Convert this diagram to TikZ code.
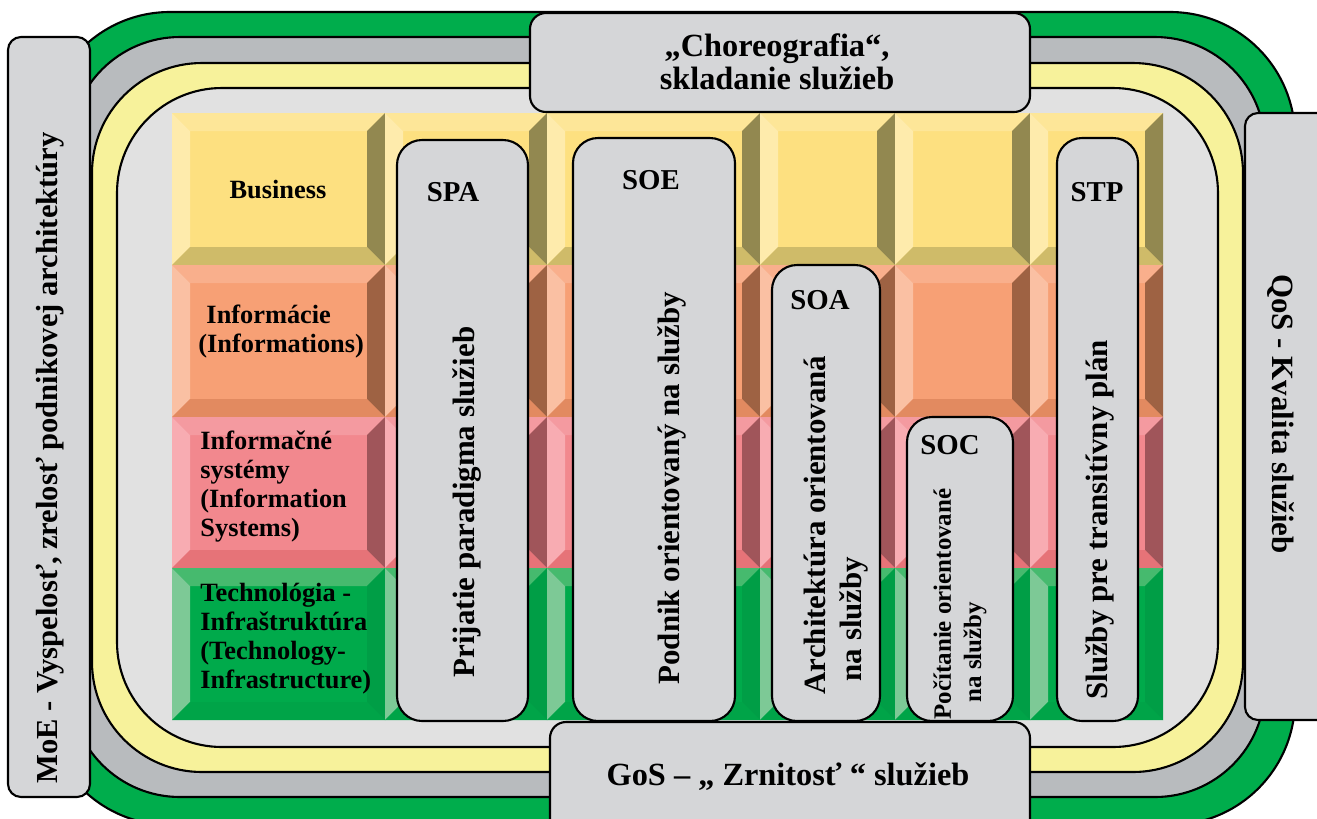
\documentclass[tikz,border=0pt]{standalone}
\usepackage{fontspec}
\setmainfont{Liberation Serif}

% ring and box colours
\definecolor{ringgreen}{RGB}{0,173,76}
\definecolor{ringgray}{RGB}{184,187,190}
\definecolor{ringyellow}{RGB}{247,242,155}
\definecolor{innergray}{RGB}{225,225,225}
\definecolor{boxgray}{RGB}{213,214,216}
% bevel tiles: C centre, T top, L left, R right, B bottom
\definecolor{bizC}{RGB}{253,224,128}
\definecolor{bizT}{RGB}{253,230,152}
\definecolor{bizL}{RGB}{254,235,172}
\definecolor{bizR}{RGB}{146,136,80}
\definecolor{bizB}{RGB}{207,187,105}
\definecolor{infC}{RGB}{247,160,117}
\definecolor{infT}{RGB}{249,175,140}
\definecolor{infL}{RGB}{250,192,163}
\definecolor{infR}{RGB}{158,98,67}
\definecolor{infB}{RGB}{226,138,96}
\definecolor{isyC}{RGB}{242,136,142}
\definecolor{isyT}{RGB}{244,154,160}
\definecolor{isyL}{RGB}{248,172,178}
\definecolor{isyR}{RGB}{160,85,90}
\definecolor{isyB}{RGB}{230,115,120}
\definecolor{tecC}{RGB}{0,170,75}
\definecolor{tecT}{RGB}{70,186,110}
\definecolor{tecL}{RGB}{125,201,150}
\definecolor{tecR}{RGB}{0,158,70}
\definecolor{tecB}{RGB}{0,164,72}

\newcommand{\bevtile}[5]{%
  \fill[fill=#5C] (#1,#2) rectangle (#3,#4);
  \fill[fill=#5T] (#1,#2) -- (#3,#2) -- (#3-18,#2+18) -- (#1+18,#2+18) -- cycle;
  \fill[fill=#5L] (#1,#2) -- (#1+18,#2+18) -- (#1+18,#4-18) -- (#1,#4) -- cycle;
  \fill[fill=#5R] (#3,#2) -- (#3,#4) -- (#3-18,#4-18) -- (#3-18,#2+18) -- cycle;
  \fill[fill=#5B] (#1,#4) -- (#3,#4) -- (#3-18,#4-18) -- (#1+18,#4-18) -- cycle;
}

\begin{document}
\begin{tikzpicture}[
    x=0.1mm, y=-0.1mm,
    ring/.style={draw=black, line width=0.6pt},
    svcbox/.style={draw=black, fill=boxgray, line width=0.6pt, rounded corners=2.5mm},
    sidebox/.style={draw=black, fill=boxgray, line width=0.6pt, rounded corners=1.3mm},
    lbl/.style={font=\fontsize{8.2}{9.5}\selectfont\bfseries},
    rowlbl/.style={font=\fontsize{7.5}{8.25}\selectfont\bfseries, align=left},
    vtxt/.style={font=\fontsize{8.8}{10.4}\selectfont\bfseries, rotate=90, align=left},
    big/.style={font=\fontsize{9.2}{9.4}\selectfont\bfseries, align=center}
]
    \useasboundingbox (0,0) rectangle (1317,818);
    \clip (0,0) rectangle (1317,818);

    %------------------------------------------------
    % kruhy okolo vrstiev
    %------------------------------------------------
    \draw[ring, fill=ringgreen, rounded corners=12.5mm] (45,12) rectangle (1295,825);
    \draw[ring, fill=ringgray, rounded corners=11mm] (70,37) rectangle (1265,797);
    \draw[ring, fill=ringyellow, rounded corners=11mm] (92,63) rectangle (1243,772);
    \draw[ring, fill=innergray, rounded corners=10.5mm] (117,88) rectangle (1218,747);

    %------------------------------------------------
    % vrstvy (Business ... Technológia)
    %------------------------------------------------
    \foreach \ya/\yb/\tc in {113/265/biz, 265/417/inf, 417/568/isy, 568/720/tec}
      \foreach \xa/\xb in {172/385, 385/547, 547/760, 760/895, 895/1030, 1030/1163}
        \bevtile{\xa}{\ya}{\xb}{\yb}{\tc};

    \node[rowlbl] (biz) at (278,190) {Business};
    \node[rowlbl, anchor=west] (inf) at (186,332) {\hspace*{2.3pt}Informácie\\(Informations)};
    \node[rowlbl, anchor=west] (isy) at (188,487) {Informačné\\systémy\\(Information\\Systems)};
    \node[rowlbl, anchor=west] (tec) at (188,639) {Technológia -\\Infraštruktúra\\(Technology-\\Infrastructure)};

    %------------------------------------------------
    % stĺpce SPA, SOE, SOA, SOC, STP
    %------------------------------------------------
    \draw[svcbox] (397,140) rectangle (528,721);
    \node[lbl] (spa) at (453,192) {SPA};
    \node[vtxt] (spat) at (467,502) {Prijatie paradigma služieb};

    \draw[svcbox] (573,138) rectangle (735,721);
    \node[lbl] (soe) at (651,180) {SOE};
    \node[vtxt] (soet) at (672,488) {Podnik orientovaný na služby};

    \draw[svcbox] (772,265) rectangle (880,721);
    \node[lbl] (soa) at (820,300) {SOA};
    \node[vtxt] (soat) at (836,525) {Architektúra orientovaná\\\hspace*{3.7pt}na služby};

    \draw[svcbox] (907,417) rectangle (1013,721);
    \node[lbl] (soc) at (950,445) {SOC};
    \node[vtxt, font=\fontsize{7.1}{8.6}\selectfont\bfseries] (soct) at (960,604) {Počítanie orientované\\\hspace*{4.8pt}na služby};

    \draw[svcbox] (1057,138) rectangle (1138,721);
    \node[lbl] (stp) at (1097,192) {STP};
    \node[vtxt] (stpt) at (1100,520) {Služby pre transitívny plán};

    %------------------------------------------------
    % okrajové bloky
    %------------------------------------------------
    \draw[sidebox, rounded corners=1.6mm] (530,13) rectangle (1030,112);
    \node[big] (chor) at (777,62) {„Choreografia“,\\skladanie služieb};

    \draw[sidebox, rounded corners=1.6mm] (550,722) rectangle (1030,840);
    \node[big] (gos) at (788,777) {GoS – „ Zrnitosť “ služieb};

    \draw[sidebox] (8,37) rectangle (90,797);
    \node[vtxt, font=\fontsize{8.7}{10}\selectfont\bfseries] (moe) at (50,458) {MoE - Vyspelosť, zrelosť podnikovej architektúry};

    \draw[sidebox] (1245,113) rectangle (1340,720);
    \node[vtxt, rotate=180, font=\fontsize{8.8}{10}\selectfont\bfseries] (qos) at (1281,414) {QoS - Kvalita služieb};

\end{tikzpicture}
\end{document}
